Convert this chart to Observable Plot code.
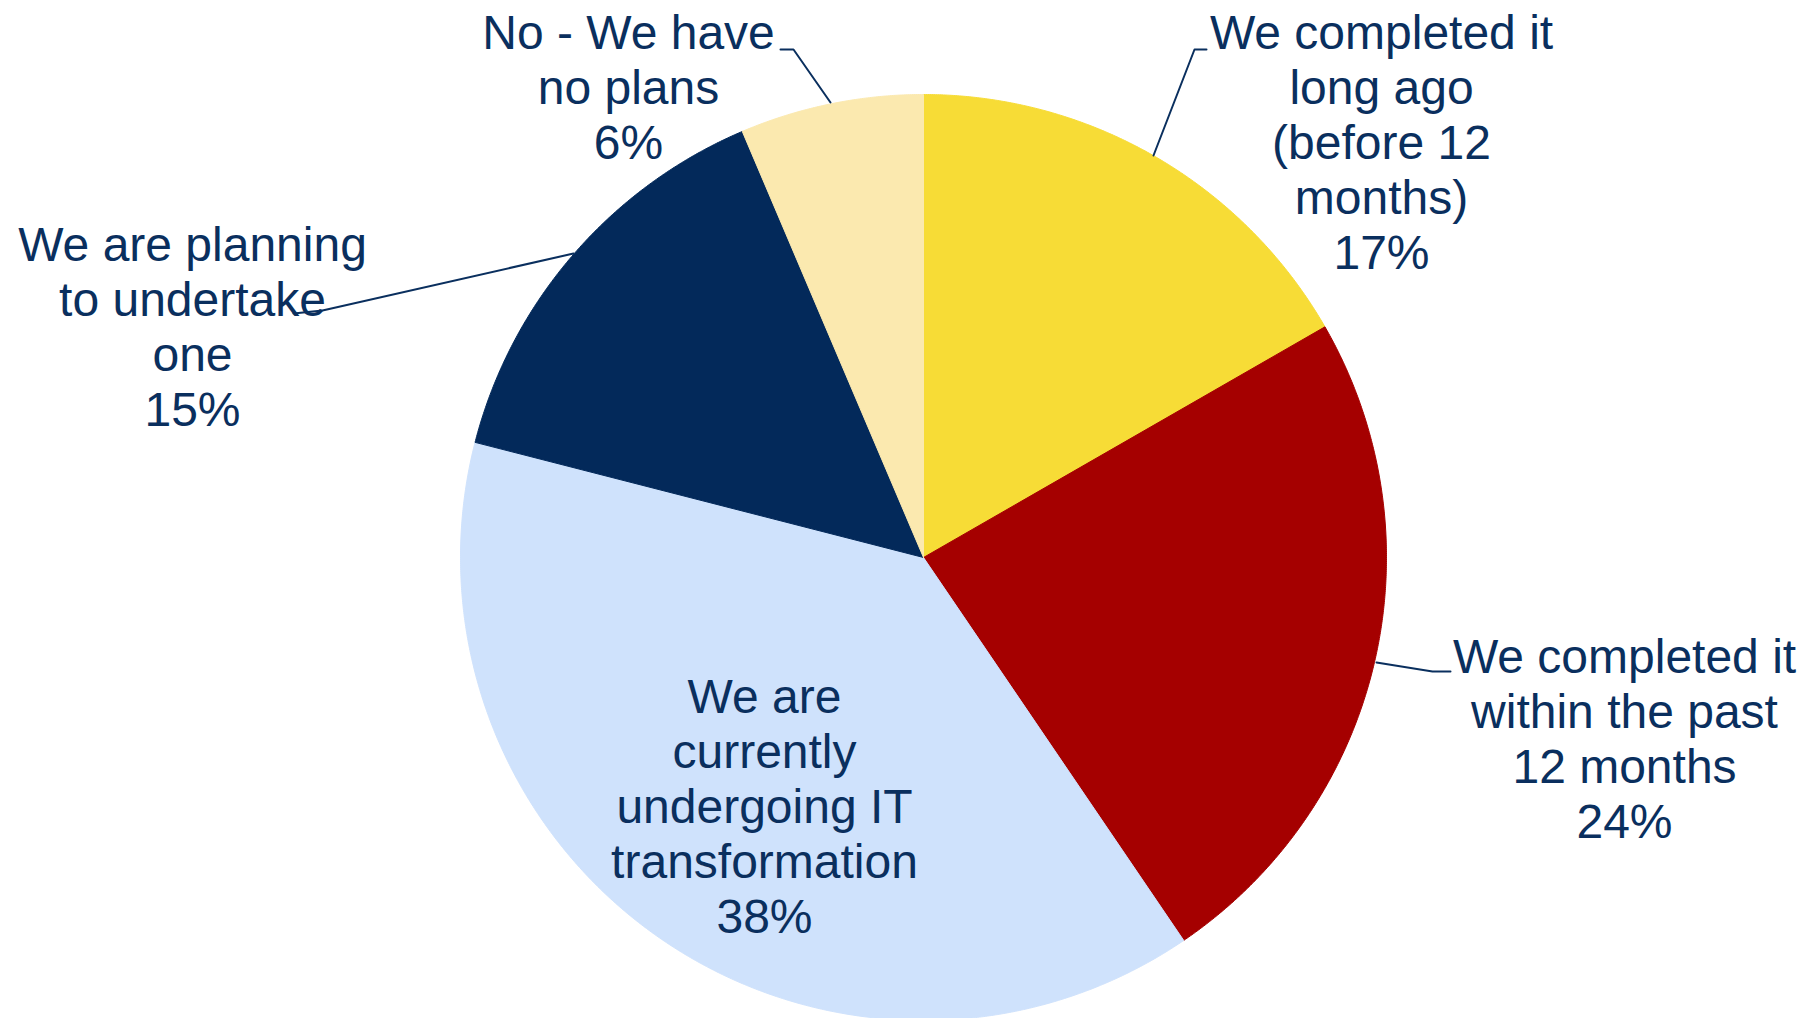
<!DOCTYPE html>
<html>
<head>
<meta charset="utf-8">
<script src="https://cdn.jsdelivr.net/npm/d3@7"></script>
<script src="https://cdn.jsdelivr.net/npm/@observablehq/plot@0.6"></script>
<style>
  html, body { margin: 0; padding: 0; background: #ffffff; }
  #chart svg { display: block; }
</style>
</head>
<body>
<div id="chart"></div>
<script>
// ---- Data ----
const categories = [
  "We completed it long ago (before 12 months)",
  "We completed it within the past 12 months",
  "We are currently undergoing IT transformation",
  "We are planning to undertake one",
  "No - We have no plans"
];
// slice sizes (labels show the rounded figures)
const values = [16.7, 23.8, 38.5, 14.6, 6.4];
const labelTexts = [
  "We completed it\nlong ago\n(before 12\nmonths)\n17%",
  "We completed it\nwithin the past\n12 months\n24%",
  "We are\ncurrently\nundergoing IT\ntransformation\n38%",
  "We are planning\nto undertake\none\n15%",
  "No - We have\nno plans\n6%"
];
const sliceColors = ["#F7DC36", "#A50000", "#CFE2FC", "#03295A", "#FBE9AF"];
const textColor = "#0A2F5E";

// ---- Layout (pixels, relative to pie centre) ----
const W = 1816, H = 1018;
const CX = 923, CY = 557, R = 463;
const labelPos = [
  {dx: 458, dy: -289},
  {dx: 701, dy: 280},
  {dx: -159, dy: 375},
  {dx: -731, dy: -132},
  {dx: -295, dy: -399}
];
const leaders = [
  {i: 0, pts: [[230, -402], [271, -508], [283, -508]]},
  {i: 1, pts: [[453, 105], [509, 114], [527, 114]]},
  {i: 3, pts: [[-350, -304], [-601, -247], [-630, -244]]},
  {i: 4, pts: [[-93, -455], [-130, -508], [-143, -508]]}
];

// ---- Build slices from data ----
const arcs = d3.pie().sort(null).value(d => d)(values);
const slicePts = [];
arcs.forEach((a, i) => {
  const cat = categories[i];
  slicePts.push({cat, x: 0, y: 0});
  const n = Math.max(2, Math.ceil((a.endAngle - a.startAngle) / (Math.PI / 720)));
  for (let k = 0; k <= n; k++) {
    const t = a.startAngle + (a.endAngle - a.startAngle) * k / n;
    slicePts.push({cat, x: R * Math.sin(t), y: -R * Math.cos(t)});
  }
  slicePts.push({cat, x: 0, y: 0});
});

const labels = categories.map((c, i) => ({cat: c, text: labelTexts[i], x: labelPos[i].dx, y: labelPos[i].dy}));
const leaderPts = [];
leaders.forEach(l => l.pts.forEach(p => leaderPts.push({cat: categories[l.i], x: p[0], y: p[1]})));

const fontSize = 48;
const chart = Plot.plot({
  width: W,
  height: H,
  margin: 0,
  style: {background: "#ffffff", fontFamily: "'Liberation Sans', Arial, sans-serif"},
  x: {domain: [-CX, W - CX], range: [0, W], axis: null},
  y: {domain: [-CY, H - CY], range: [0, H], axis: null},
  color: {domain: categories, range: sliceColors},
  marks: [
    Plot.line(slicePts, {x: "x", y: "y", z: "cat", fill: "cat", stroke: "cat", strokeWidth: 1, curve: "linear"}),
    Plot.line(leaderPts, {x: "x", y: "y", z: "cat", stroke: textColor, strokeWidth: 2, curve: "linear"}),
    Plot.text(labels, {
      x: "x", y: "y", text: "text",
      fontSize, lineHeight: 55 / fontSize, lineAnchor: "bottom", textAnchor: "middle",
      fill: textColor, fontFamily: "'Liberation Sans', Arial, sans-serif"
    })
  ]
});
document.getElementById("chart").appendChild(chart);
</script>
</body>
</html>
